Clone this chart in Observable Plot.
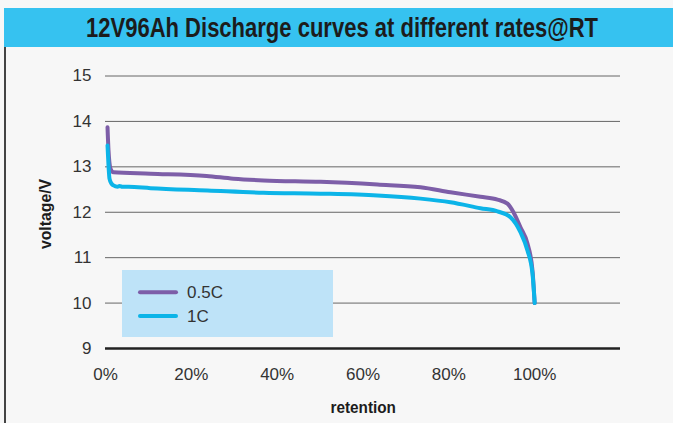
<!DOCTYPE html>
<html>
<head>
<meta charset="utf-8">
<script src="https://cdn.jsdelivr.net/npm/d3@7"></script>
<script src="https://cdn.jsdelivr.net/npm/@observablehq/plot@0.6"></script>
<style>
  html, body { margin: 0; padding: 0; background: #f7f7f7; width: 673px; height: 423px; overflow: hidden; }
  #page { position: relative; width: 673px; height: 423px; }
  #titlebar { position: absolute; left: 4px; top: 8px; width: 669px; height: 39px; background: #36c2f0; }
  #title { position: absolute; font-family: "Liberation Sans", Arial, sans-serif; font-weight: bold;
    font-size: 27px; line-height: 1; color: #1c1c1c; white-space: nowrap; }
  #border { position: absolute; left: 4px; top: 47px; width: 2px; height: 376px; background: #444; }
  #chart { position: absolute; left: 0; top: 47px; }
  .axlabel { position: absolute; font-family: "Liberation Sans", Arial, sans-serif; line-height: 1;
    font-weight: bold; font-size: 16px; color: #1c1c1c; white-space: nowrap; }
</style>
</head>
<body>
<div id="page">
  <div id="titlebar"></div>
  <div id="title">12V96Ah Discharge curves at different rates@RT</div>
  <div id="border"></div>
  <div id="chart"></div>
  <div class="axlabel" id="ylab">voltage/V</div>
  <div class="axlabel" id="xlab">retention</div>
</div>
<script>
// ---- data ----
const seriesNames = ["0.5C", "1C"];
const seriesColors = ["#7d5ea8", "#0cb4e8"];

const retention05 = [0.0047, 0.0070, 0.0117, 0.0186, 0.1048, 0.2353, 0.2982, 0.3681, 0.5009, 0.6337, 0.7339, 0.8038, 0.8737, 0.9133, 0.9366, 0.9506, 0.9669, 0.9832, 0.9949, 1.0];
const voltage05   = [13.87, 13.36, 12.96, 12.88, 12.85, 12.80, 12.74, 12.70, 12.67, 12.61, 12.55, 12.44, 12.34, 12.28, 12.19, 12.00, 11.67, 11.31, 10.72, 10.0];

const retention1C = [0.0047, 0.0070, 0.0093, 0.0140, 0.0186, 0.0280, 0.0326, 0.0396, 0.0536, 0.1048, 0.2377, 0.3681, 0.5009, 0.6337, 0.7339, 0.8038, 0.8737, 0.9133, 0.9436, 0.9669, 0.9832, 0.9949, 1.0];
const voltage1C   = [13.47, 13.03, 12.74, 12.63, 12.59, 12.56, 12.58, 12.56, 12.56, 12.53, 12.48, 12.43, 12.41, 12.37, 12.30, 12.22, 12.09, 12.02, 11.89, 11.56, 11.16, 10.65, 10.0];

const yTicks = [9, 10, 11, 12, 13, 14, 15];
const xTicks = [0, 0.2, 0.4, 0.6, 0.8, 1.0];
const xTickLabels = ["0%", "20%", "40%", "60%", "80%", "100%"];

// ---- build tables ----
const s05 = retention05.map((r, i) => ({ series: seriesNames[0], retention: r, voltage: voltage05[i] }));
const s1C = retention1C.map((r, i) => ({ series: seriesNames[1], retention: r, voltage: voltage1C[i] }));

const chart = Plot.plot({
  width: 673,
  height: 376,
  marginLeft: 105,
  marginRight: 53,
  marginTop: 28.5,
  marginBottom: 75,
  x: { domain: [0, 1.2] },
  y: { domain: [9, 15] },
  style: { background: "transparent", fontFamily: "'Liberation Sans', Arial, sans-serif", fontSize: "17px", color: "#333" },
  marks: [
    Plot.ruleY(yTicks.filter(t => t > 9), { stroke: "#666", strokeWidth: 1 }),
    Plot.ruleY([9], { stroke: "#222", strokeWidth: 2.5 }),
    Plot.axisY({ ticks: yTicks, tickSize: 0, tickPadding: 14, label: null, fill: "#333", tickFormat: d3.format("d") }),
    Plot.axisX({ ticks: xTicks, tickSize: 0, tickPadding: 19, label: null, fill: "#333",
      tickFormat: d => xTickLabels[xTicks.findIndex(t => Math.abs(t - d) < 1e-9)] }),
    Plot.line(s05, { x: "retention", y: "voltage", stroke: seriesColors[0], strokeWidth: 4, curve: "monotone-x" }),
    Plot.line(s1C, { x: "retention", y: "voltage", stroke: seriesColors[1], strokeWidth: 4, curve: "monotone-x" })
  ]
});
document.getElementById("chart").appendChild(chart);

// ---- condensed text via horizontal scaling ----
function condense(id, cx, cy, targetW, rotate) {
  const el = document.getElementById(id);
  el.style.left = "0px"; el.style.top = "0px";
  const w = el.offsetWidth, h = el.offsetHeight;
  const s = targetW / w;
  el.style.left = (cx - w / 2) + "px";
  el.style.top = (cy - h / 2) + "px";
  el.style.transform = (rotate ? "rotate(-90deg) " : "") + "scaleX(" + s + ")";
}
condense("title", 341.5, 28.5, 512, false);
condense("ylab", 45, 214, 70, true);
condense("xlab", 362.5, 408, 65, false);

// ---- legend ----
const ns = "http://www.w3.org/2000/svg";
const leg = document.createElementNS(ns, "svg");
leg.setAttribute("width", 673);
leg.setAttribute("height", 423);
leg.style.position = "absolute"; leg.style.left = "0"; leg.style.top = "0";
const box = document.createElementNS(ns, "rect");
box.setAttribute("x", 122); box.setAttribute("y", 270); box.setAttribute("width", 211); box.setAttribute("height", 67);
box.setAttribute("fill", "#bee3f8");
leg.appendChild(box);
seriesNames.forEach((name, i) => {
  const y = 292.3 + i * 23.7;
  const ln = document.createElementNS(ns, "line");
  ln.setAttribute("x1", 140); ln.setAttribute("x2", 176); ln.setAttribute("y1", y); ln.setAttribute("y2", y);
  ln.setAttribute("stroke", seriesColors[i]); ln.setAttribute("stroke-width", 4); ln.setAttribute("stroke-linecap", "round");
  leg.appendChild(ln);
  const tx = document.createElementNS(ns, "text");
  tx.setAttribute("x", 187); tx.setAttribute("y", y + 5.8);
  tx.setAttribute("font-family", "'Liberation Sans', Arial, sans-serif"); tx.setAttribute("font-size", 17);
  tx.setAttribute("fill", "#333");
  tx.textContent = name;
  leg.appendChild(tx);
});
document.getElementById("page").appendChild(leg);
</script>
</body>
</html>
